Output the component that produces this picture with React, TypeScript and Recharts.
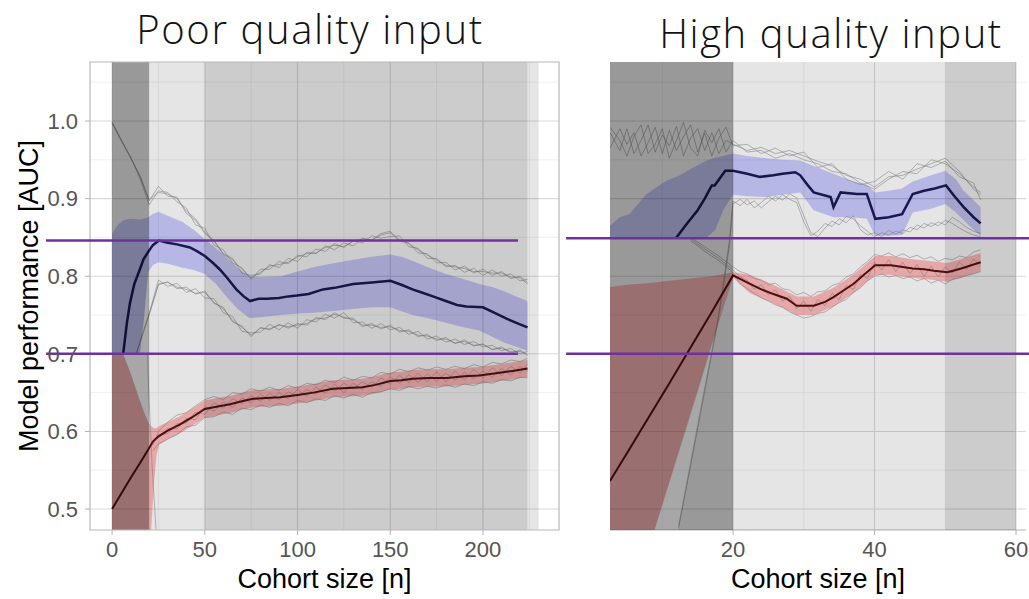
import React from 'react';
import { ComposedChart, Line, Area, XAxis, YAxis, CartesianGrid, ReferenceArea, ReferenceLine } from 'recharts';

type P = [number, number];
type R = [number, number, number];

const FONT = '"Liberation Sans", Arial, sans-serif';

// shared y scale
const Y_DOMAIN: [number, number] = [0.473, 1.076];
const Y_TICKS = [0.5, 0.6, 0.7, 0.8, 0.9, 1.0];
const Y_MINOR = [0.55, 0.65, 0.75, 0.85, 0.95, 1.05];

// ---------- left panel: poor quality input ----------
const L_BLUE_MEAN: P[] = [
  [6, 0.7], [8, 0.74], [9.7, 0.766], [12, 0.79], [15, 0.809], [17, 0.822], [19.4, 0.831], [22, 0.84], [25.3, 0.846],
  [30, 0.843], [35, 0.841], [42, 0.837], [46, 0.832], [50, 0.826], [54, 0.818], [58, 0.809], [62, 0.798], [67, 0.783],
  [71, 0.774], [74.4, 0.768], [79, 0.771], [83.5, 0.771], [90, 0.772], [95, 0.774], [99.7, 0.775], [106, 0.777],
  [113.7, 0.783], [120, 0.785], [130, 0.79], [140, 0.792], [150, 0.794], [156, 0.789], [162, 0.783], [167, 0.779],
  [173, 0.774], [180, 0.768], [186, 0.763], [191, 0.761], [200, 0.76], [206, 0.753], [213, 0.745], [219, 0.739], [224, 0.734],
];
const L_BLUE_BAND: R[] = [
  [0, 0.7, 0.855], [3, 0.7, 0.866], [6, 0.7, 0.872], [10, 0.7, 0.874], [15, 0.7, 0.873], [17, 0.74, 0.874], [19.5, 0.805, 0.876],
  [22, 0.814, 0.88], [25, 0.818, 0.883], [30, 0.816, 0.878], [38, 0.811, 0.87], [44, 0.808, 0.86], [50, 0.803, 0.848],
  [56, 0.79, 0.836], [63, 0.77, 0.822], [68, 0.757, 0.81], [74, 0.746, 0.8], [80, 0.747, 0.799], [91, 0.75, 0.8],
  [100, 0.752, 0.806], [109, 0.753, 0.812], [118, 0.755, 0.816], [127, 0.757, 0.82], [140, 0.76, 0.825], [150, 0.76, 0.828],
  [156, 0.755, 0.825], [162, 0.75, 0.82], [170, 0.746, 0.812], [180, 0.74, 0.803], [190, 0.734, 0.796], [198, 0.73, 0.79],
  [205, 0.722, 0.786], [212, 0.714, 0.78], [218, 0.709, 0.774], [224, 0.704, 0.768],
];
const L_RED_MEAN: P[] = [
  [0, 0.5], [5, 0.52], [10, 0.54], [15, 0.559], [19.6, 0.577], [22, 0.587], [25.3, 0.594], [30, 0.601], [36.7, 0.609],
  [43, 0.618], [50, 0.629], [57, 0.632], [63.6, 0.635], [70, 0.639], [76, 0.642], [83, 0.643], [90.6, 0.644], [100, 0.647],
  [108.5, 0.65], [119, 0.655], [127, 0.656], [135, 0.657], [142, 0.66], [150, 0.665], [156, 0.666], [162, 0.668],
  [171, 0.669], [180.5, 0.669], [190, 0.671], [198, 0.672], [207, 0.675], [216, 0.678], [224, 0.681],
];
const L_RED_BAND: R[] = [
  [0, 0.44, 0.7], [6, 0.44, 0.7], [10, 0.44, 0.675], [15, 0.44, 0.64], [19, 0.44, 0.615], [20, 0.45, 0.61], [21, 0.47, 0.607],
  [22.5, 0.53, 0.604], [24, 0.57, 0.604], [25.5, 0.583, 0.607], [30, 0.59, 0.612], [37, 0.598, 0.62], [43, 0.607, 0.629],
  [50, 0.618, 0.64], [57, 0.621, 0.643], [64, 0.624, 0.646], [70, 0.628, 0.65], [76, 0.631, 0.653], [83, 0.632, 0.654],
  [91, 0.633, 0.655], [100, 0.636, 0.658], [108, 0.639, 0.661], [119, 0.644, 0.666], [127, 0.645, 0.667], [135, 0.646, 0.668],
  [142, 0.649, 0.671], [150, 0.654, 0.676], [156, 0.655, 0.677], [162, 0.657, 0.679], [171, 0.658, 0.68], [180, 0.658, 0.68],
  [190, 0.66, 0.682], [198, 0.661, 0.683], [207, 0.664, 0.686], [216, 0.667, 0.689], [224, 0.67, 0.692],
];
const L_GAP: R[] = [[6, 0.7, 0.7], [10, 0.675, 0.7], [15, 0.64, 0.7], [17, 0.625, 0.74], [19.5, 0.612, 0.805]];

const L_UP_X = [0, 5, 10, 15, 20, 25, 30, 35, 40, 45, 50, 55, 60, 65, 70, 75, 80, 85, 90, 95, 100, 105, 110, 115, 120, 125,
  130, 135, 140, 145, 150, 155, 160, 165, 170, 175, 180, 185, 190, 195, 200, 205, 210, 215, 220, 224];
const L_UP_RUNS = [
  [0.998, 0.976, 0.952, 0.93, 0.897, 0.916, 0.903, 0.902, 0.881, 0.872, 0.855, 0.846, 0.829, 0.823, 0.804, 0.801, 0.803, 0.815,
    0.811, 0.823, 0.819, 0.831, 0.829, 0.839, 0.834, 0.843, 0.839, 0.849, 0.846, 0.855, 0.858, 0.845, 0.843, 0.83, 0.829, 0.817,
    0.818, 0.808, 0.813, 0.804, 0.809, 0.801, 0.806, 0.797, 0.8, 0.792],
  [0.997, 0.974, 0.954, 0.926, 0.892, 0.91, 0.908, 0.896, 0.888, 0.866, 0.862, 0.84, 0.834, 0.817, 0.811, 0.796, 0.809, 0.809,
    0.819, 0.816, 0.827, 0.825, 0.835, 0.832, 0.842, 0.837, 0.846, 0.843, 0.852, 0.849, 0.851, 0.852, 0.838, 0.836, 0.823, 0.823,
    0.812, 0.814, 0.805, 0.81, 0.801, 0.808, 0.8, 0.803, 0.794, 0.796],
  [0.999, 0.975, 0.953, 0.929, 0.899, 0.908, 0.906, 0.9, 0.884, 0.874, 0.857, 0.845, 0.828, 0.821, 0.809, 0.798, 0.805, 0.813,
    0.815, 0.818, 0.825, 0.829, 0.83, 0.837, 0.84, 0.838, 0.845, 0.848, 0.847, 0.853, 0.856, 0.847, 0.842, 0.834, 0.827, 0.821,
    0.814, 0.812, 0.81, 0.806, 0.806, 0.804, 0.804, 0.799, 0.798, 0.79],
];
const L_LO_X = [13, 16, 20, 25, 30, 35, 40, 45, 50, 55, 60, 65, 70, 75, 80, 85, 90, 95, 100, 105, 110, 115, 120, 125, 130,
  135, 140, 145, 150, 155, 160, 165, 170, 175, 180, 185, 190, 195, 200, 205, 210, 215, 220, 224];
const L_LO_RUNS = [
  [0.7, 0.723, 0.752, 0.795, 0.787, 0.791, 0.779, 0.784, 0.772, 0.771, 0.753, 0.748, 0.729, 0.727, 0.728, 0.738, 0.731, 0.74,
    0.733, 0.744, 0.741, 0.751, 0.746, 0.753, 0.74, 0.741, 0.733, 0.739, 0.731, 0.734, 0.725, 0.729, 0.719, 0.723, 0.715, 0.719,
    0.712, 0.716, 0.709, 0.711, 0.704, 0.707, 0.7, 0.703],
  [0.701, 0.721, 0.75, 0.789, 0.793, 0.784, 0.786, 0.777, 0.781, 0.765, 0.76, 0.741, 0.736, 0.722, 0.734, 0.731, 0.738, 0.733,
    0.739, 0.737, 0.747, 0.744, 0.753, 0.746, 0.746, 0.735, 0.739, 0.732, 0.737, 0.728, 0.731, 0.722, 0.725, 0.717, 0.721, 0.713,
    0.718, 0.71, 0.713, 0.705, 0.709, 0.701, 0.705, 0.698],
  [0.699, 0.722, 0.751, 0.79, 0.792, 0.786, 0.783, 0.778, 0.779, 0.766, 0.758, 0.743, 0.734, 0.724, 0.733, 0.732, 0.737, 0.735,
    0.737, 0.739, 0.745, 0.746, 0.751, 0.747, 0.744, 0.737, 0.737, 0.734, 0.735, 0.73, 0.729, 0.724, 0.723, 0.719, 0.719, 0.714,
    0.716, 0.711, 0.712, 0.706, 0.707, 0.703, 0.703, 0.699],
];
const L_RED_X = [22, 25, 30, 35, 40, 45, 50, 55, 60, 65, 70, 75, 80, 85, 90, 95, 100, 105, 110, 115, 120, 125, 130, 135, 140,
  145, 150, 155, 160, 165, 170, 175, 180, 185, 190, 195, 200, 205, 210, 215, 220, 224];
const L_RED_RUNS = [
  [0.582, 0.6, 0.612, 0.621, 0.624, 0.633, 0.641, 0.645, 0.641, 0.65, 0.648, 0.655, 0.652, 0.657, 0.653, 0.659, 0.656, 0.662,
    0.66, 0.666, 0.663, 0.67, 0.666, 0.671, 0.669, 0.676, 0.674, 0.68, 0.677, 0.682, 0.679, 0.683, 0.68, 0.684, 0.681, 0.686,
    0.683, 0.689, 0.687, 0.692, 0.69, 0.694],
  [0.575, 0.584, 0.59, 0.596, 0.606, 0.608, 0.618, 0.619, 0.625, 0.622, 0.63, 0.628, 0.634, 0.631, 0.636, 0.633, 0.64, 0.637,
    0.642, 0.64, 0.646, 0.643, 0.648, 0.644, 0.65, 0.651, 0.655, 0.653, 0.658, 0.655, 0.658, 0.656, 0.66, 0.657, 0.661, 0.659,
    0.664, 0.662, 0.667, 0.665, 0.67, 0.669],
  [0.59, 0.592, 0.604, 0.603, 0.617, 0.615, 0.632, 0.626, 0.638, 0.631, 0.643, 0.637, 0.648, 0.64, 0.65, 0.642, 0.654, 0.645,
    0.657, 0.649, 0.661, 0.65, 0.662, 0.654, 0.664, 0.658, 0.67, 0.662, 0.673, 0.663, 0.674, 0.665, 0.675, 0.666, 0.676, 0.668,
    0.678, 0.67, 0.681, 0.673, 0.684, 0.677],
  [0.586, 0.596, 0.597, 0.61, 0.611, 0.625, 0.622, 0.637, 0.63, 0.642, 0.636, 0.646, 0.639, 0.649, 0.641, 0.651, 0.645, 0.654,
    0.648, 0.66, 0.652, 0.662, 0.655, 0.664, 0.657, 0.669, 0.661, 0.672, 0.663, 0.675, 0.664, 0.677, 0.664, 0.678, 0.666, 0.68,
    0.669, 0.682, 0.672, 0.684, 0.675, 0.687],
];
const L_DROP: P[] = [[19, 0.7], [20, 0.64], [21.5, 0.56], [23, 0.5], [24, 0.46]];

// ---------- right panel: high quality input ----------
const R_BLUE_MEAN: P[] = [
  [12, 0.85], [13.5, 0.868], [15, 0.885], [16, 0.9], [17, 0.917], [17.4, 0.917], [18.9, 0.936], [20, 0.936], [22, 0.932],
  [23.8, 0.928], [25.7, 0.93], [27, 0.932], [28.8, 0.934], [29.5, 0.93], [30.5, 0.918], [31.4, 0.908], [33, 0.904],
  [33.8, 0.902], [34.2, 0.889], [35.2, 0.908], [37.5, 0.906], [38.9, 0.906], [40.1, 0.874], [42, 0.876], [43.9, 0.88],
  [45.4, 0.906], [47, 0.91], [48.5, 0.913], [50.1, 0.917], [51.3, 0.903], [52.6, 0.889], [54, 0.876], [55, 0.868],
];
const R_BLUE_BAND: R[] = [
  [2.6, 0.85, 0.865], [4, 0.85, 0.876], [5.4, 0.85, 0.88], [5.8, 0.85, 0.885], [7.8, 0.85, 0.906], [9.2, 0.85, 0.915],
  [10.6, 0.85, 0.923], [12.5, 0.85, 0.93], [14.4, 0.85, 0.94], [16.3, 0.85, 0.949], [17.5, 0.86, 0.953], [18.6, 0.885, 0.955],
  [20, 0.905, 0.958], [22, 0.903, 0.955], [24.8, 0.902, 0.952], [27, 0.905, 0.95], [29.5, 0.908, 0.949], [31.4, 0.885, 0.942],
  [34.2, 0.876, 0.932], [37, 0.876, 0.922], [38.9, 0.874, 0.918], [40.1, 0.852, 0.908], [42, 0.852, 0.91], [43.9, 0.853, 0.913],
  [45.4, 0.882, 0.922], [48, 0.887, 0.93], [50, 0.893, 0.936], [51.5, 0.882, 0.925], [52.6, 0.872, 0.91], [54, 0.86, 0.898],
  [55, 0.852, 0.889],
];
const R_RED_MEAN: P[] = [
  [2.6, 0.536], [5, 0.572], [8, 0.617], [11, 0.662], [14, 0.708], [17, 0.754], [20, 0.801], [22.4, 0.79], [24, 0.783],
  [25.7, 0.777], [27.6, 0.771], [29, 0.762], [31.4, 0.762], [33, 0.767], [34.2, 0.773], [35.5, 0.781], [37, 0.79],
  [38.5, 0.802], [40.1, 0.814], [42.3, 0.814], [44, 0.812], [45.4, 0.81], [47, 0.809], [48.4, 0.807], [50.3, 0.805],
  [51.5, 0.808], [52.6, 0.811], [54, 0.815], [55, 0.818],
];
const R_RED_BAND: R[] = [
  [2.6, 0.287, 0.786], [5, 0.358, 0.789], [8, 0.446, 0.791], [11, 0.535, 0.794], [14, 0.623, 0.797], [17, 0.712, 0.8],
  [20, 0.798, 0.805], [22.4, 0.778, 0.802], [25.7, 0.765, 0.789], [29, 0.75, 0.774], [31.4, 0.75, 0.774], [34.2, 0.761, 0.785],
  [37, 0.778, 0.802], [40.1, 0.802, 0.826], [42.3, 0.802, 0.826], [45.4, 0.798, 0.822], [48.4, 0.795, 0.819],
  [50.3, 0.793, 0.817], [52.6, 0.799, 0.823], [55, 0.806, 0.83],
];
const R_GAP: R[] = [[8.9, 0.4, 0.473], [12.3, 0.476, 0.571], [15, 0.605, 0.65], [17.5, 0.725, 0.725]];

const R_UP_X = [2.6, 4, 5, 6, 7, 8, 9, 10, 11, 12, 13, 14, 15, 16, 17, 18, 19, 20, 22, 24, 26, 28, 30, 32, 34, 36, 38, 40,
  42, 44, 46, 48, 50, 52, 54, 55];
const R_UP_RUNS = [
  [0.985, 0.962, 0.99, 0.958, 0.975, 0.995, 0.96, 0.982, 0.968, 0.993, 0.955, 0.978, 0.99, 0.962, 0.985, 0.958, 0.975, 0.97,
    0.962, 0.966, 0.958, 0.962, 0.955, 0.948, 0.942, 0.93, 0.925, 0.915, 0.928, 0.93, 0.938, 0.945, 0.952, 0.935, 0.912, 0.905],
  [0.965, 0.99, 0.97, 0.985, 0.955, 0.972, 0.992, 0.958, 0.988, 0.962, 0.98, 0.995, 0.96, 0.984, 0.955, 0.978, 0.992, 0.968,
    0.97, 0.958, 0.965, 0.955, 0.96, 0.94, 0.945, 0.925, 0.918, 0.922, 0.935, 0.925, 0.945, 0.94, 0.948, 0.928, 0.92, 0.898],
  [0.992, 0.975, 0.955, 0.98, 0.995, 0.958, 0.97, 0.99, 0.952, 0.975, 0.998, 0.965, 0.955, 0.988, 0.972, 0.99, 0.96, 0.975,
    0.96, 0.962, 0.952, 0.958, 0.95, 0.945, 0.935, 0.932, 0.92, 0.912, 0.925, 0.935, 0.932, 0.95, 0.945, 0.932, 0.915, 0.908],
];
const R_LO_X = [12.3, 14, 16, 18, 19.5, 20, 21, 22, 23, 24, 25, 26, 27, 28, 29, 30, 31, 32, 33, 34, 35, 36, 37, 38, 39, 40,
  41, 42, 43, 44, 45, 46, 47, 48, 49, 50, 51, 52, 53, 54, 55];
const R_LO_RUNS = [
  [0.476, 0.556, 0.652, 0.748, 0.84, 0.893, 0.899, 0.892, 0.897, 0.888, 0.896, 0.903, 0.898, 0.906, 0.901, 0.878, 0.856, 0.851,
    0.862, 0.871, 0.866, 0.877, 0.874, 0.865, 0.858, 0.851, 0.856, 0.853, 0.858, 0.855, 0.863, 0.86, 0.868, 0.864, 0.87, 0.866,
    0.876, 0.87, 0.863, 0.858, 0.855],
  [0.478, 0.56, 0.656, 0.752, 0.846, 0.897, 0.891, 0.899, 0.888, 0.895, 0.903, 0.897, 0.905, 0.899, 0.895, 0.87, 0.852, 0.858,
    0.868, 0.864, 0.874, 0.869, 0.878, 0.86, 0.853, 0.856, 0.851, 0.859, 0.854, 0.86, 0.857, 0.866, 0.862, 0.869, 0.865, 0.872,
    0.868, 0.862, 0.857, 0.853, 0.851],
];
const R_RED_X = [14, 16, 18, 20, 21, 22, 23, 24, 25, 26, 27, 28, 29, 30, 31, 32, 33, 34, 35, 36, 37, 38, 39, 40, 41, 42, 43,
  44, 45, 46, 47, 48, 49, 50, 51, 52, 53, 54, 55];
const R_RED_RUNS = [
  [0.85, 0.838, 0.826, 0.812, 0.806, 0.803, 0.797, 0.795, 0.789, 0.791, 0.784, 0.782, 0.776, 0.779, 0.774, 0.78, 0.781, 0.788,
    0.791, 0.799, 0.803, 0.812, 0.819, 0.828, 0.826, 0.83, 0.825, 0.829, 0.824, 0.827, 0.822, 0.825, 0.819, 0.823, 0.821, 0.826,
    0.824, 0.831, 0.834],
  [0.846, 0.832, 0.82, 0.805, 0.79, 0.784, 0.778, 0.772, 0.768, 0.763, 0.76, 0.754, 0.75, 0.746, 0.748, 0.752, 0.754, 0.76,
    0.766, 0.77, 0.779, 0.785, 0.794, 0.8, 0.803, 0.799, 0.801, 0.797, 0.799, 0.794, 0.797, 0.791, 0.795, 0.79, 0.796, 0.798,
    0.801, 0.803, 0.806],
  [0.848, 0.835, 0.823, 0.808, 0.799, 0.795, 0.783, 0.789, 0.776, 0.782, 0.768, 0.774, 0.758, 0.768, 0.755, 0.77, 0.762, 0.778,
    0.77, 0.788, 0.783, 0.802, 0.797, 0.818, 0.808, 0.821, 0.806, 0.818, 0.803, 0.815, 0.8, 0.813, 0.799, 0.812, 0.804, 0.818,
    0.809, 0.822, 0.813],
];

const xy = (a: P[]) => a.map(([x, y]) => ({ x, y }));
const rng = (a: R[]) => a.map(([x, lo, hi]) => ({ x, v: [lo, hi] }));
const run = (xs: number[], ys: number[]) => xs.map((x, i) => ({ x, y: ys[i] }));

type Band = { x1: number; x2: number; o: number };

type PanelProps = {
  left: number;
  width: number;
  marginLeft: number;
  marginRight: number;
  showY: boolean;
  frame: boolean;
  xDomain: [number, number];
  xTicks: number[];
  xMinor: number[];
  bands: Band[];
  blueBand: R[];
  blueMean: P[];
  redBand: R[];
  redMean: P[];
  gap: R[];
  runs: { xs: number[]; ys: number[] }[];
  extra: P[][];
  purple: { x1: number; x2: number; y: number }[];
};

const Panel = (p: PanelProps) => (
  <div style={{ position: 'absolute', left: p.left, top: 0 }}>
    <ComposedChart width={p.width} height={599} margin={{ top: 62, right: p.marginRight, bottom: 0, left: p.marginLeft }}>
      <CartesianGrid stroke="#ececec" strokeWidth={0.8} horizontalValues={Y_MINOR} verticalValues={p.xMinor} />
      <CartesianGrid stroke="#dadada" strokeWidth={1.1} horizontalValues={Y_TICKS} verticalValues={p.xTicks} />
      <XAxis
        type="number"
        dataKey="x"
        domain={p.xDomain}
        allowDataOverflow
        ticks={p.xTicks}
        interval={0}
        height={69}
        tickSize={5}
        tickMargin={6}
        tickLine={{ stroke: '#b3b3b3' }}
        axisLine={p.frame ? false : { stroke: '#b3b3b3' }}
        tick={{ fill: '#555555', fontSize: 22, fontFamily: FONT }}
      />
      <YAxis
        type="number"
        domain={Y_DOMAIN}
        allowDataOverflow
        ticks={Y_TICKS}
        hide={!p.showY}
        width={90}
        tickSize={5}
        tickMargin={7}
        tickLine={{ stroke: '#b3b3b3' }}
        axisLine={false}
        tickFormatter={(v: number) => v.toFixed(1)}
        tick={{ fill: '#555555', fontSize: 22, fontFamily: FONT }}
      />
      <Area data={rng(p.redBand)} dataKey="v" type="linear" stroke="none" fill="#ff0000" fillOpacity={0.27} isAnimationActive={false} />
      <Area data={rng(p.blueBand)} dataKey="v" type="linear" stroke="none" fill="#0000ff" fillOpacity={0.2} isAnimationActive={false} />
      {p.runs.map((r, i) => (
        <Line key={`run-${i}`} data={run(r.xs, r.ys)} dataKey="y" type="linear" stroke="#8a8a8a" strokeOpacity={0.6}
          strokeWidth={0.9} dot={false} activeDot={false} isAnimationActive={false} />
      ))}
      {p.extra.map((e, i) => (
        <Line key={`extra-${i}`} data={xy(e)} dataKey="y" type="linear" stroke="#8a8a8a" strokeOpacity={0.6}
          strokeWidth={0.9} dot={false} activeDot={false} isAnimationActive={false} />
      ))}
      <Line data={xy(p.redMean)} dataKey="y" type="linear" stroke="#5a0f12" strokeWidth={2}
        dot={false} activeDot={false} isAnimationActive={false} />
      <Line data={xy(p.blueMean)} dataKey="y" type="linear" stroke="#1b1b58" strokeWidth={2.5}
        dot={false} activeDot={false} isAnimationActive={false} />
      {p.bands.map((b, i) => (
        <ReferenceArea key={`band-${i}`} x1={b.x1} x2={b.x2} y1={Y_DOMAIN[0]} y2={Y_DOMAIN[1]}
          fill="#000000" fillOpacity={b.o} stroke="none" zIndex={500} />
      ))}
      <Area data={rng(p.gap)} dataKey="v" type="linear" stroke="none" fill="#ffffff" fillOpacity={0.14}
        isAnimationActive={false} zIndex={550} />
      {p.frame && (
        <ReferenceArea x1={p.xDomain[0]} x2={p.xDomain[1]} y1={Y_DOMAIN[0]} y2={Y_DOMAIN[1]}
          fill="none" stroke="#b8b8b8" strokeWidth={1.2} zIndex={560} />
      )}
      {p.purple.map((l, i) => (
        <ReferenceLine key={`pl-${i}`} segment={[{ x: l.x1, y: l.y }, { x: l.x2, y: l.y }]} ifOverflow="visible"
          stroke="#7030a0" strokeWidth={2.5} zIndex={600} />
      ))}
    </ComposedChart>
  </div>
);

export default function App() {
  return (
    <div style={{ position: 'absolute', left: 0, top: 0, width: 1029, height: 599, overflow: 'hidden', background: '#fff' }}>
      <Panel
        left={0}
        width={580}
        marginLeft={0}
        marginRight={21}
        showY
        frame
        xDomain={[-11.9, 241]}
        xTicks={[0, 50, 100, 150, 200]}
        xMinor={[25, 75, 125, 175, 225]}
        bands={[
          { x1: 0, x2: 20, o: 0.4 },
          { x1: 20, x2: 50, o: 0.1 },
          { x1: 50, x2: 224, o: 0.2 },
          { x1: 224, x2: 230, o: 0.1 },
        ]}
        blueBand={L_BLUE_BAND}
        blueMean={L_BLUE_MEAN}
        redBand={L_RED_BAND}
        redMean={L_RED_MEAN}
        gap={L_GAP}
        runs={[
          ...L_UP_RUNS.map((ys) => ({ xs: L_UP_X, ys })),
          ...L_LO_RUNS.map((ys) => ({ xs: L_LO_X, ys })),
          ...L_RED_RUNS.map((ys) => ({ xs: L_RED_X, ys })),
        ]}
        extra={[L_DROP]}
        purple={[
          { x1: -35.6, x2: 218.9, y: 0.846 },
          { x1: -35.6, x2: 218.9, y: 0.7 },
        ]}
      />
      <Panel
        left={560}
        width={480}
        marginLeft={50}
        marginRight={14}
        showY={false}
        frame={false}
        xDomain={[2.61, 61.41]}
        xTicks={[20, 40, 60]}
        xMinor={[10, 30, 50]}
        bands={[
          { x1: 2.61, x2: 20, o: 0.4 },
          { x1: 20, x2: 50, o: 0.1 },
          { x1: 50, x2: 60, o: 0.2 },
        ]}
        blueBand={R_BLUE_BAND}
        blueMean={R_BLUE_MEAN}
        redBand={R_RED_BAND}
        redMean={R_RED_MEAN}
        gap={R_GAP}
        runs={[
          ...R_UP_RUNS.map((ys) => ({ xs: R_UP_X, ys })),
          ...R_LO_RUNS.map((ys) => ({ xs: R_LO_X, ys })),
          ...R_RED_RUNS.map((ys) => ({ xs: R_RED_X, ys })),
        ]}
        extra={[]}
        purple={[
          { x1: -3.6, x2: 63, y: 0.849 },
          { x1: -3.6, x2: 63, y: 0.7 },
        ]}
      />
      <svg width={1029} height={599} style={{ position: 'absolute', left: 0, top: 0, pointerEvents: 'none' }}>
        <text x={310} y={44} textAnchor="middle" fontFamily='"Open Sans", sans-serif' fontWeight={300} fontSize={40}
          letterSpacing={1.6} fill="#111">
          Poor quality input
        </text>
        <text x={831} y={48} textAnchor="middle" fontFamily='"Open Sans", sans-serif' fontWeight={300} fontSize={40}
          letterSpacing={1.6} fill="#111">
          High quality input
        </text>
        <text transform="translate(38,296) rotate(-90)" textAnchor="middle" fontFamily={FONT} fontSize={27} fill="#000">
          Model performance [AUC]
        </text>
        <text x={324.5} y={588} textAnchor="middle" fontFamily={FONT} fontSize={27} fill="#000">
          Cohort size [n]
        </text>
        <text x={818} y={588} textAnchor="middle" fontFamily={FONT} fontSize={27} fill="#000">
          Cohort size [n]
        </text>
      </svg>
    </div>
  );
}
